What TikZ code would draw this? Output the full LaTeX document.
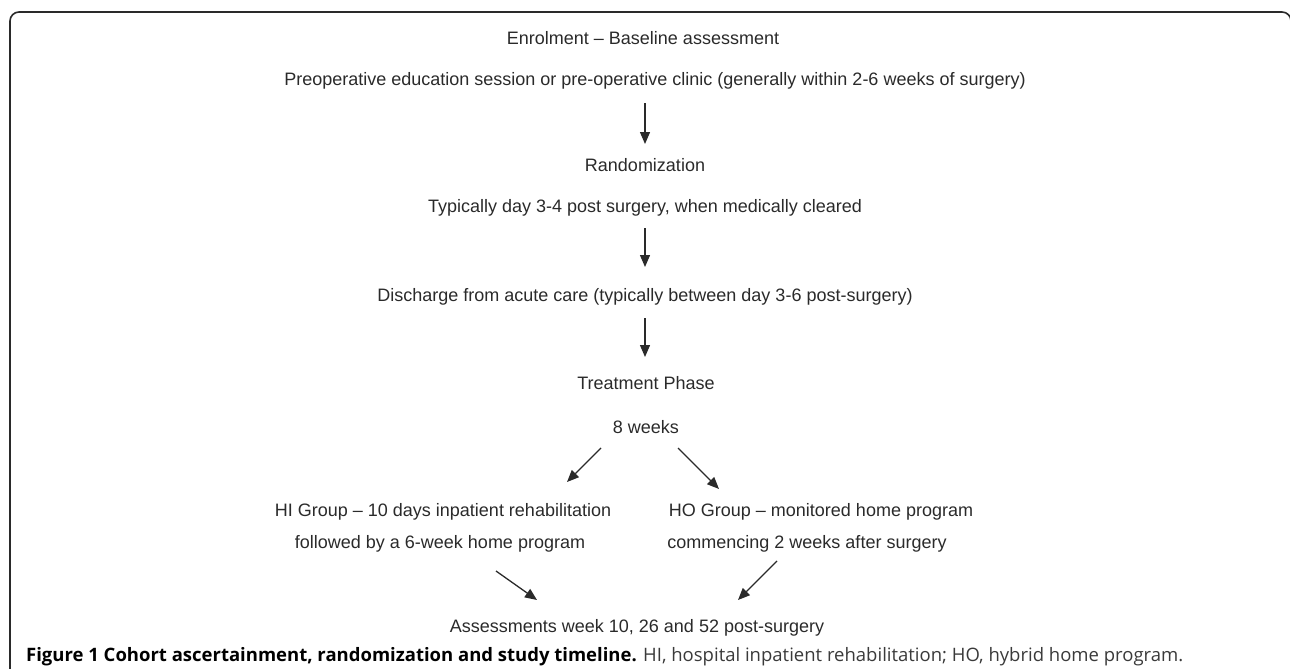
\documentclass[tikz,border=0pt]{standalone}
\usepackage{fontspec}
\setmainfont{Liberation Sans}
\newfontfamily\capfont{Open Sans}
\usetikzlibrary{arrows.meta}
\definecolor{txt}{HTML}{2A2A2A}
\definecolor{capgray}{HTML}{3A3A3A}
\tikzset{
  lbl/.style={text=txt, inner sep=0pt, font=\fontsize{18}{21}\selectfont},
  arr/.style={draw=txt, line width=1.3pt, -{Triangle[length=12pt,width=10pt]}},
  frame/.style={draw=txt, line width=1.6pt, rounded corners=9pt}
}
\begin{document}
\begin{tikzpicture}[x=1pt,y=-1pt]
\useasboundingbox (0,0) rectangle (1290,669);
\draw[frame] (10,680) -- (10,12) -- (1291,12) -- (1291,680);
\node[lbl] (enrol) at (643,38) {Enrolment – Baseline assessment};
\node[lbl] (preop) at (655,81) {Preoperative education session or pre-operative clinic (generally within 2-6 weeks of surgery)};
\node[lbl] (rand) at (645,165) {Randomization};
\node[lbl] (typ) at (645,208) {Typically day 3-4 post surgery, when medically cleared};
\node[lbl] (disch) at (645,297) {Discharge from acute care (typically between day 3-6 post-surgery)};
\node[lbl] (treat) at (646,383) {Treatment Phase};
\node[lbl] (weeks) at (646,427) {8 weeks};
\node[lbl] (hi1) at (443,512) {HI Group – 10 days inpatient rehabilitation};
\node[lbl] (hi2) at (440,544) {followed by a 6-week home program};
\node[lbl] (ho1) at (821,512) {HO Group – monitored home program};
\node[lbl] (ho2) at (807,544) {commencing 2 weeks after surgery};
\node[lbl] (assess) at (637,628) {Assessments week 10, 26 and 52 post-surgery};
\node[anchor=west, inner sep=0pt, font=\capfont\fontsize{18.5}{21}\selectfont] (cap) at (26,657)
  {\textbf{Figure 1 Cohort ascertainment, randomization and study timeline.} \textcolor{capgray}{HI, hospital inpatient rehabilitation; HO, hybrid home program.}};
\coordinate (a1s) at (645,103); \coordinate (a1e) at (645,144);
\coordinate (a2s) at (645,228); \coordinate (a2e) at (645,267);
\coordinate (a3s) at (645,318); \coordinate (a3e) at (645,357);
\coordinate (l1s) at (601,448); \coordinate (l1e) at (567,482);
\coordinate (r1s) at (678,448); \coordinate (r1e) at (719,489);
\coordinate (l2s) at (496,571); \coordinate (l2e) at (537,600);
\coordinate (r2s) at (777,561); \coordinate (r2e) at (738,600);
\draw[arr] (a1s) -- (a1e);
\draw[arr] (a2s) -- (a2e);
\draw[arr] (a3s) -- (a3e);
\draw[arr] (l1s) -- (l1e);
\draw[arr] (r1s) -- (r1e);
\draw[arr] (l2s) -- (l2e);
\draw[arr] (r2s) -- (r2e);
\end{tikzpicture}
\end{document}
